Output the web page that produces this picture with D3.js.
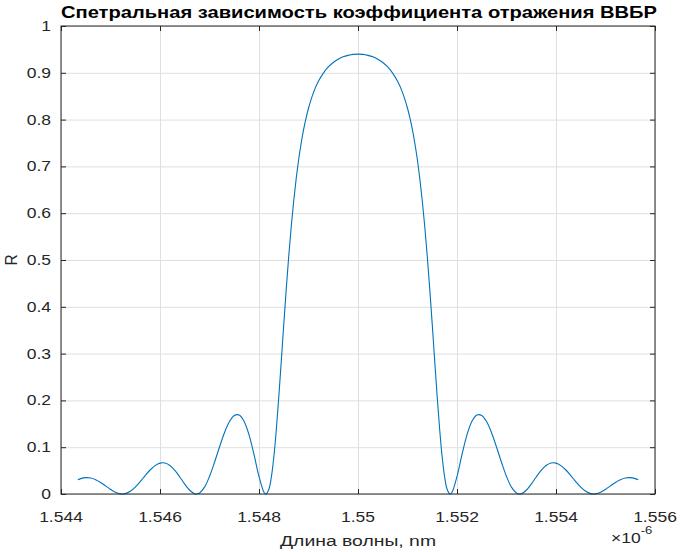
<!DOCTYPE html>
<html lang="ru">
<head>
<meta charset="UTF-8">
<title>Спетральная зависимость коэффициента отражения ВВБР</title>
<style>
  html, body { margin: 0; padding: 0; background: #fff; }
  svg { display: block; font-family: 'Liberation Sans', Arial, sans-serif; }
  .grid line { stroke: #dfdfdf; stroke-width: 1; }
  .grid path { display: none; }
  .tick-axis path { display: none; }
  .tick-axis line { stroke: #262626; stroke-width: 1; }
</style>
</head>
<body>
<div id="chart"></div>
<script src="https://d3js.org/d3.v7.min.js"></script>
<script>
// wavelength, x10^-6 m
const wavelength = [
  1.54434, 1.5444, 1.5445, 1.5446, 1.5447, 1.5448, 1.5449, 1.5450, 1.5451, 1.5452,
  1.545238, 1.5453, 1.5454, 1.5455, 1.5456, 1.5457, 1.5458, 1.5459, 1.5460, 1.5461,
  1.5462, 1.5463, 1.5464, 1.5465, 1.5466, 1.5467, 1.546734, 1.5468, 1.5469, 1.5470,
  1.5471, 1.5472, 1.5473, 1.5474, 1.5475, 1.5476, 1.5477, 1.5478, 1.5479, 1.5480,
  1.5481, 1.54814, 1.5482, 1.54825, 1.5483, 1.54835, 1.5484, 1.54845, 1.5485, 1.54855,
  1.5486, 1.54865, 1.5487, 1.54875, 1.5488, 1.54885, 1.5489, 1.54895, 1.5490, 1.5491,
  1.5492, 1.5493, 1.5494, 1.5495, 1.5496, 1.5497, 1.5498, 1.5499, 1.5500,
  1.5501, 1.5502, 1.5503, 1.5504, 1.5505, 1.5506, 1.5507, 1.5508, 1.5509, 1.5510,
  1.55105, 1.5511, 1.55115, 1.5512, 1.55125, 1.5513, 1.55135, 1.5514, 1.55145, 1.5515,
  1.55155, 1.5516, 1.55165, 1.5517, 1.55175, 1.5518, 1.55186, 1.5519, 1.5520, 1.5521,
  1.5522, 1.5523, 1.5524, 1.5525, 1.5526, 1.5527, 1.5528, 1.5529, 1.5530, 1.5531,
  1.5532, 1.553266, 1.5533, 1.5534, 1.5535, 1.5536, 1.5537, 1.5538, 1.5539, 1.5540,
  1.5541, 1.5542, 1.5543, 1.5544, 1.5545, 1.5546, 1.5547, 1.554762, 1.5548, 1.5549,
  1.5550, 1.5551, 1.5552, 1.5553, 1.5554, 1.5555, 1.5556, 1.55566
];

const reflectance = [
  0.0304, 0.0329, 0.0349, 0.0341, 0.0305, 0.0247, 0.0173, 0.0098, 0.0037, 0.0003,
  0.0000, 0.0008, 0.0057, 0.0145, 0.0263, 0.0392, 0.0513, 0.0607, 0.0660, 0.0661,
  0.0608, 0.0504, 0.0364, 0.0211, 0.0080, 0.0006, 0.0000, 0.0023, 0.0147, 0.0375,
  0.0673, 0.0998, 0.1303, 0.1542, 0.1679, 0.1687, 0.1549, 0.1259, 0.0841, 0.0375,
  0.0039, 0.0000, 0.0103, 0.0364, 0.0795, 0.1378, 0.2077, 0.2840, 0.3620, 0.4373,
  0.5071, 0.5699, 0.6250, 0.6727, 0.7137, 0.7484, 0.7781, 0.8031, 0.8243, 0.8577,
  0.8817, 0.8994, 0.9125, 0.9220, 0.9291, 0.9342, 0.9373, 0.9394, 0.9400,
  0.9394, 0.9373, 0.9342, 0.9291, 0.9220, 0.9125, 0.8994, 0.8817, 0.8577, 0.8243,
  0.8031, 0.7781, 0.7484, 0.7137, 0.6727, 0.6250, 0.5699, 0.5071, 0.4373, 0.3620,
  0.2840, 0.2077, 0.1378, 0.0795, 0.0364, 0.0103, 0.0000, 0.0039, 0.0375, 0.0841,
  0.1259, 0.1549, 0.1687, 0.1679, 0.1542, 0.1303, 0.0998, 0.0673, 0.0375, 0.0147,
  0.0023, 0.0000, 0.0006, 0.0080, 0.0211, 0.0364, 0.0504, 0.0608, 0.0661, 0.0660,
  0.0607, 0.0513, 0.0392, 0.0263, 0.0145, 0.0057, 0.0008, 0.0000, 0.0003, 0.0037,
  0.0098, 0.0173, 0.0247, 0.0305, 0.0341, 0.0349, 0.0329, 0.0304
];

const xTicks = [1.544, 1.546, 1.548, 1.55, 1.552, 1.554, 1.556];
const xTickLabels = ['1.544', '1.546', '1.548', '1.55', '1.552', '1.554', '1.556'];
const yTicks = [0, 0.1, 0.2, 0.3, 0.4, 0.5, 0.6, 0.7, 0.8, 0.9, 1];
const yTickLabels = ['0', '0.1', '0.2', '0.3', '0.4', '0.5', '0.6', '0.7', '0.8', '0.9', '1'];

const titleText = 'Спетральная зависимость коэффициента отражения ВВБР';
const xLabelText = 'Длина волны, nm';
const yLabelText = 'R';

const width = 680;
const height = 552;
const margin = { top: 26, right: 25, bottom: 58, left: 61 };
const stretch = 1.25; // the picture's text is a little wide

const x = d3.scaleLinear().domain([1.544, 1.556]).range([margin.left, width - margin.right]);
const y = d3.scaleLinear().domain([0, 1]).range([height - margin.bottom, margin.top]);
const plotW = width - margin.left - margin.right;
const plotH = height - margin.top - margin.bottom;

const svg = d3.select('#chart').append('svg')
  .attr('width', width)
  .attr('height', height);

// grid
svg.append('g')
  .attr('class', 'grid')
  .attr('transform', `translate(0,${y(0)})`)
  .call(d3.axisBottom(x).tickValues(xTicks).tickSize(-plotH).tickFormat(''));
svg.append('g')
  .attr('class', 'grid')
  .attr('transform', `translate(${x(1.544)},0)`)
  .call(d3.axisLeft(y).tickValues(yTicks).tickSize(-plotW).tickFormat(''));

// curve
const points = wavelength.map((w, i) => [w, reflectance[i]]);
const line = d3.line()
  .x(d => x(d[0]))
  .y(d => y(d[1]))
  .curve(d3.curveCatmullRom.alpha(0.5));

svg.append('path')
  .datum(points)
  .attr('fill', 'none')
  .attr('stroke', '#0072bd')
  .attr('stroke-width', 1.1)
  .attr('d', line);

// inward ticks on all four sides
const tk = 5;
svg.append('g').attr('class', 'tick-axis')
  .attr('transform', `translate(0,${y(0)})`)
  .call(d3.axisBottom(x).tickValues(xTicks).tickSize(-tk).tickFormat(''));
svg.append('g').attr('class', 'tick-axis')
  .attr('transform', `translate(0,${y(1)})`)
  .call(d3.axisTop(x).tickValues(xTicks).tickSize(-tk).tickFormat(''));
svg.append('g').attr('class', 'tick-axis')
  .attr('transform', `translate(${x(1.544)},0)`)
  .call(d3.axisLeft(y).tickValues(yTicks).tickSize(-tk).tickFormat(''));
svg.append('g').attr('class', 'tick-axis')
  .attr('transform', `translate(${x(1.556)},0)`)
  .call(d3.axisRight(y).tickValues(yTicks).tickSize(-tk).tickFormat(''));

// box
svg.append('rect')
  .attr('x', x(1.544))
  .attr('y', y(1))
  .attr('width', plotW)
  .attr('height', plotH)
  .attr('fill', 'none')
  .attr('stroke', '#262626')
  .attr('stroke-width', 1);

// tick labels
svg.append('g').selectAll('text')
  .data(xTicks)
  .join('text')
  .attr('transform', d => `translate(${x(d)},${y(0) + 28}) scale(${stretch},1)`)
  .attr('text-anchor', 'middle')
  .attr('font-size', 14)
  .attr('fill', '#262626')
  .text((d, i) => xTickLabels[i]);

svg.append('g').selectAll('text')
  .data(yTicks)
  .join('text')
  .attr('transform', d => `translate(${x(1.544) - 10},${y(d) + 5}) scale(${stretch},1)`)
  .attr('text-anchor', 'end')
  .attr('font-size', 14)
  .attr('fill', '#262626')
  .text((d, i) => yTickLabels[i]);

// exponent
const expo = svg.append('text')
  .attr('transform', `translate(611,543) scale(${stretch},1)`)
  .attr('font-size', 14)
  .attr('fill', '#262626');
expo.append('tspan').text('×10');
expo.append('tspan').attr('dy', -9).attr('font-size', 10.5).text('-6');

// axis labels
svg.append('text')
  .attr('transform', `translate(${x(1.55)},546) scale(${stretch},1)`)
  .attr('text-anchor', 'middle')
  .attr('font-size', 15.5)
  .attr('fill', '#262626')
  .text(xLabelText);

svg.append('text')
  .attr('transform', `translate(17,${y(0.5)}) rotate(-90) scale(1,1.12)`)
  .attr('text-anchor', 'middle')
  .attr('font-size', 15.5)
  .attr('fill', '#262626')
  .text(yLabelText);

// title
svg.append('text')
  .attr('x', 61)
  .attr('y', 18)
  .attr('textLength', 596)
  .attr('lengthAdjust', 'spacingAndGlyphs')
  .attr('font-size', 16.5)
  .attr('font-weight', 'bold')
  .attr('fill', '#000')
  .text(titleText);
</script>
</body>
</html>
